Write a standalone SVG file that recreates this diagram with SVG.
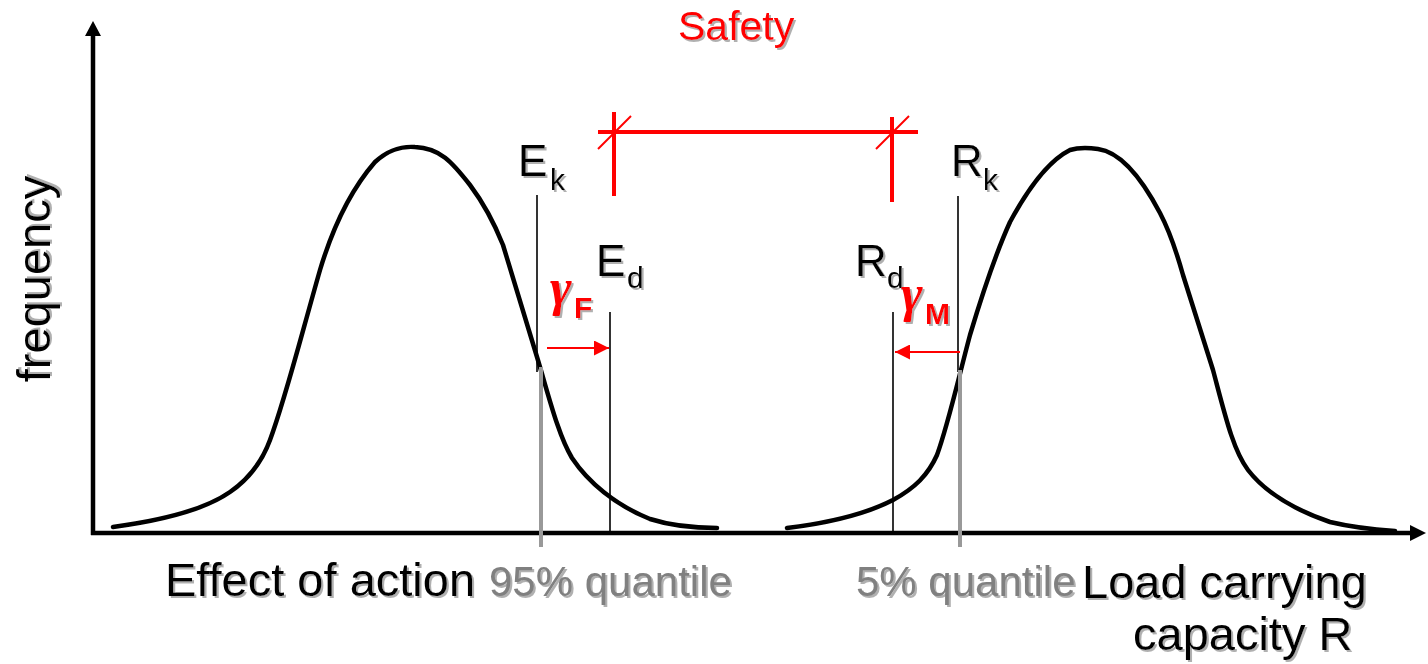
<svg xmlns="http://www.w3.org/2000/svg" width="1428" height="664" viewBox="0 0 1428 664">
<defs>
<filter id="sh" x="-10%" y="-20%" width="120%" height="140%">
<feDropShadow dx="2" dy="2" stdDeviation="0.6" flood-color="#a8a8a8" flood-opacity="0.9"/>
</filter>
<marker id="ah" viewBox="0 0 10 10" refX="10" refY="5" markerWidth="15" markerHeight="15" markerUnits="userSpaceOnUse" orient="auto">
<path d="M0,0 L10,5 L0,10 Z" fill="#ff0000"/>
</marker>
</defs>
<style>
text{font-family:"Liberation Sans",Arial,sans-serif;filter:url(#sh)}
.lbl{font-size:44px;fill:#000}
.sub{font-size:30px;fill:#000}
.big{font-size:47px;fill:#000}
.q{font-size:42px;fill:#808080}
.red{fill:#ff0000}
.g{font-family:"Liberation Serif","Times New Roman",serif;font-style:italic;font-size:52px;font-weight:bold;fill:#ff0000}
.gs{font-size:30px;font-weight:bold;fill:#ff0000}
.curve{fill:none;stroke:#000;stroke-width:4.5;stroke-linecap:round;stroke-linejoin:round}
.thin{stroke:#000;stroke-width:1.6}
.gray{stroke:#999;stroke-width:4}
.rl{stroke:#ff0000;stroke-width:4}
.rt{stroke:#ff0000;stroke-width:2}
.ra{stroke:#ff0000;stroke-width:2;fill:none}
</style>
<g id="axes">
<line x1="93" y1="34" x2="93" y2="535" stroke="#000" stroke-width="4.5"/>
<path d="M93,21 L85,36 L101,36 Z" fill="#000"/>
<line x1="91" y1="533" x2="1412" y2="533" stroke="#000" stroke-width="4.5"/>
<path d="M1426,533 L1410,525 L1410,541 Z" fill="#000"/>
</g>
<g id="curve-E">
<path class="curve" d="M113,527 C150,522 200,513 230,492 C250,478 262,462 270,440 C285,400 300,340 320,270 C335,220 355,185 375,162 C388,150 400,146 415,147 C440,148 452,162 470,185 C485,205 495,225 503,245 L537,357 C548,393 558,435 572,458 C588,482 615,505 650,519 C672,526 700,528 717,528"/>
</g>
<g id="curve-R">
<path class="curve" d="M787,528 C820,524 860,517 893,500 C915,488 928,475 937,455 C948,425 958,380 970,335 C982,295 995,255 1010,222 C1030,185 1050,160 1070,150 C1080,147 1090,148 1098,149 C1120,152 1140,175 1160,213 C1170,232 1176,250 1183,275 L1213,370 C1225,415 1233,450 1248,470 C1265,492 1295,510 1330,522 C1355,528 1380,530 1395,531"/>
</g>
<g id="marker-lines">
<line class="thin" x1="537" y1="195" x2="537" y2="372"/>
<line class="gray" x1="541" y1="367" x2="541" y2="547"/>
<line class="thin" x1="610" y1="312" x2="610" y2="531"/>
<line class="thin" x1="893" y1="312" x2="893" y2="531"/>
<line class="thin" x1="958" y1="196" x2="958" y2="372"/>
<line class="gray" x1="960" y1="370" x2="960" y2="547"/>
</g>
<g id="safety-bar">
<line class="rl" x1="598" y1="132" x2="918" y2="132"/>
<line class="rl" x1="614" y1="112" x2="614" y2="196"/>
<line class="rl" x1="892" y1="117" x2="892" y2="202"/>
<line class="rt" x1="598" y1="149" x2="631" y2="116"/>
<line class="rt" x1="876" y1="149" x2="909" y2="116"/>
</g>
<g id="connectors">
<line class="ra" x1="547" y1="348" x2="609" y2="348" marker-end="url(#ah)"/>
<line class="ra" x1="960" y1="352" x2="895" y2="352" marker-end="url(#ah)"/>
</g>
<g id="label-safety"><text x="678" y="40" font-size="41" class="red">Safety</text></g>
<g id="label-Ek"><text x="518" y="176" class="lbl">E</text><text x="550" y="190" class="sub">k</text></g>
<g id="label-Ed"><text x="596" y="276" class="lbl">E</text><text x="627" y="288" class="sub">d</text></g>
<g id="label-Rd"><text x="855" y="276" class="lbl">R</text><text x="887" y="288" class="sub">d</text></g>
<g id="label-Rk"><text x="951" y="176" class="lbl">R</text><text x="983" y="190" class="sub">k</text></g>
<g id="label-gF"><text x="550" y="305" class="g">γ</text><text x="574" y="318" class="gs">F</text></g>
<g id="label-gM"><text x="901" y="311" class="g">γ</text><text x="925" y="324" class="gs">M</text></g>
<g id="label-frequency"><text transform="translate(50,279) rotate(-90)" text-anchor="middle" class="big">frequency</text></g>
<g id="label-effect"><text x="165" y="596" class="big">Effect of action</text></g>
<g id="label-95"><text x="489" y="596" class="q">95% quantile</text></g>
<g id="label-5"><text x="856" y="596" class="q">5% quantile</text></g>
<g id="label-load"><text x="1082" y="598" class="big">Load carrying</text><text x="1133" y="650" class="big">capacity R</text></g>
</svg>
